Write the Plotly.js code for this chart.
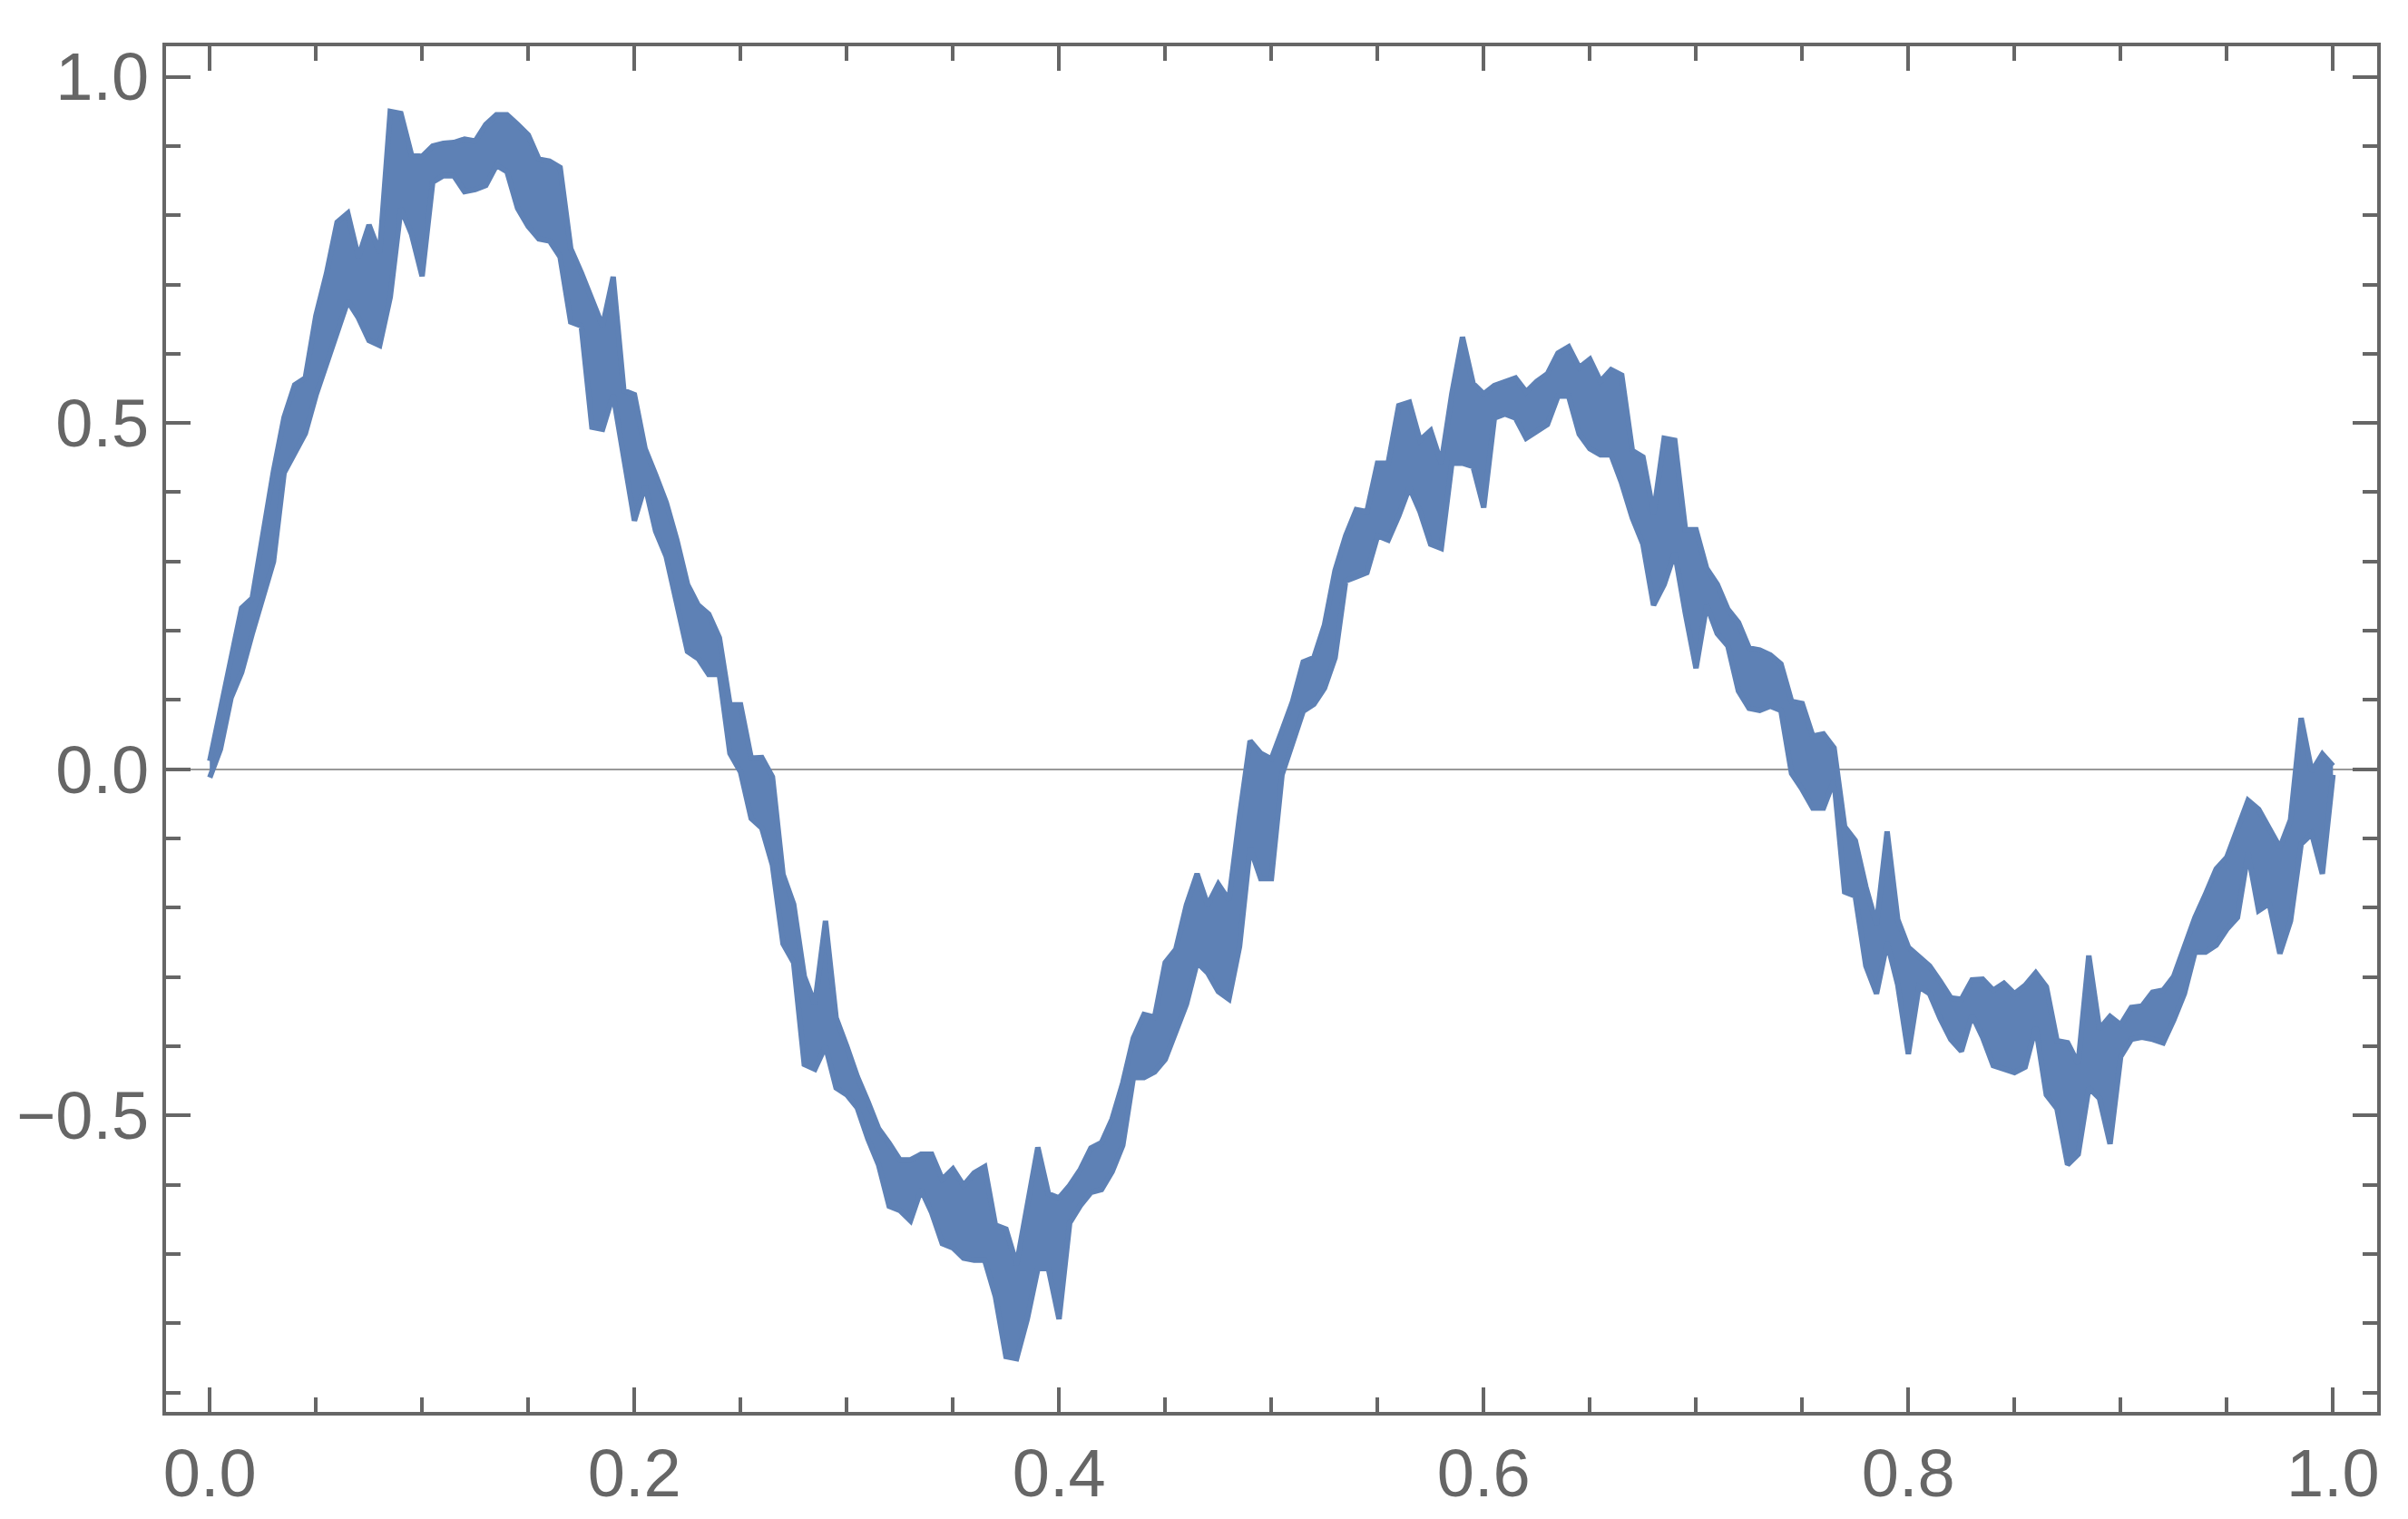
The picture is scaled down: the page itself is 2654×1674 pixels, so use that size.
<!DOCTYPE html>
<html>
<head>
<meta charset="utf-8">
<script src="https://cdn.plot.ly/plotly-3.0.1.min.js"></script>
<style>
  html, body { margin: 0; padding: 0; background: #fff; }
  #plot { width: 2654px; height: 1674px; }
</style>
</head>
<body>
<div id="plot"></div>
<script>
// samples every 0.005 on x, from 0 to 1; top and bottom of the drawn band
var xStart = 0;
var xStep = 0.005;

var bandTop = [
  0.012, 0.089, 0.159, 0.233, 0.247, 0.340, 0.430, 0.508, 0.555, 0.565,
  0.655, 0.716, 0.790, 0.803, 0.739, 0.786, 0.746, 0.950, 0.947, 0.887,
  0.885, 0.900, 0.904, 0.905, 0.910, 0.907, 0.931, 0.945, 0.945, 0.931,
  0.916, 0.881, 0.878, 0.869, 0.752, 0.717, 0.676, 0.640, 0.711, 0.547,
  0.541, 0.463, 0.425, 0.385, 0.331, 0.267, 0.237, 0.224, 0.190, 0.093,
  0.093, 0.016, 0.017, -0.011, -0.152, -0.195, -0.299, -0.339, -0.219, -0.359,
  -0.400, -0.444, -0.480, -0.519, -0.540, -0.564, -0.564, -0.556, -0.556, -0.592,
  -0.577, -0.601, -0.583, -0.574, -0.658, -0.664, -0.715, -0.625, -0.546, -0.613,
  -0.619, -0.601, -0.578, -0.547, -0.539, -0.505, -0.453, -0.388, -0.354, -0.358,
  -0.279, -0.260, -0.196, -0.151, -0.196, -0.166, -0.189, -0.068, 0.041, 0.023,
  0.015, 0.056, 0.098, 0.155, 0.161, 0.208, 0.287, 0.337, 0.375, 0.372,
  0.442, 0.442, 0.525, 0.530, 0.475, 0.489, 0.442, 0.542, 0.624, 0.557,
  0.542, 0.554, 0.560, 0.565, 0.545, 0.560, 0.571, 0.601, 0.610, 0.580,
  0.592, 0.560, 0.577, 0.569, 0.460, 0.451, 0.369, 0.478, 0.475, 0.346,
  0.346, 0.290, 0.267, 0.231, 0.212, 0.175, 0.172, 0.165, 0.152, 0.098,
  0.095, 0.048, 0.051, 0.031, -0.083, -0.103, -0.170, -0.224, -0.090, -0.217,
  -0.257, -0.271, -0.284, -0.306, -0.330, -0.332, -0.304, -0.303, -0.319, -0.309,
  -0.324, -0.312, -0.294, -0.314, -0.392, -0.395, -0.425, -0.269, -0.375, -0.357,
  -0.369, -0.344, -0.342, -0.322, -0.319, -0.299, -0.254, -0.214, -0.180, -0.144,
  -0.127, -0.086, -0.045, -0.058, -0.086, -0.113, -0.073, 0.074, -0.003, 0.022,
  0.005
];

var bandBottom = [
  -0.012, 0.029, 0.103, 0.140, 0.196, 0.250, 0.300, 0.428, 0.458, 0.485,
  0.540, 0.585, 0.629, 0.676, 0.652, 0.619, 0.612, 0.682, 0.810, 0.773,
  0.712, 0.848, 0.857, 0.857, 0.834, 0.837, 0.843, 0.872, 0.863, 0.810,
  0.784, 0.766, 0.763, 0.740, 0.646, 0.640, 0.494, 0.491, 0.541, 0.447,
  0.359, 0.410, 0.344, 0.307, 0.237, 0.170, 0.160, 0.137, 0.137, 0.023,
  -0.004, -0.071, -0.085, -0.138, -0.252, -0.279, -0.426, -0.433, -0.400, -0.460,
  -0.470, -0.489, -0.534, -0.571, -0.631, -0.637, -0.652, -0.607, -0.640, -0.685,
  -0.691, -0.706, -0.709, -0.709, -0.761, -0.848, -0.851, -0.794, -0.721, -0.721,
  -0.794, -0.655, -0.630, -0.611, -0.607, -0.581, -0.543, -0.445, -0.445, -0.437,
  -0.419, -0.377, -0.339, -0.279, -0.294, -0.321, -0.332, -0.256, -0.113, -0.158,
  -0.158, -0.008, 0.038, 0.084, 0.094, 0.117, 0.161, 0.272, 0.278, 0.284,
  0.337, 0.331, 0.366, 0.407, 0.372, 0.325, 0.319, 0.442, 0.442, 0.437,
  0.378, 0.507, 0.513, 0.507, 0.478, 0.489, 0.498, 0.539, 0.539, 0.484,
  0.463, 0.454, 0.454, 0.413, 0.363, 0.325, 0.237, 0.267, 0.313, 0.225,
  0.146, 0.237, 0.196, 0.178, 0.113, 0.088, 0.085, 0.091, 0.085, -0.006,
  -0.029, -0.056, -0.056, -0.016, -0.177, -0.183, -0.284, -0.324, -0.250, -0.311,
  -0.411, -0.314, -0.324, -0.360, -0.390, -0.407, -0.355, -0.387, -0.428, -0.433,
  -0.438, -0.430, -0.372, -0.470, -0.490, -0.571, -0.556, -0.460, -0.475, -0.541,
  -0.415, -0.390, -0.387, -0.390, -0.395, -0.362, -0.324, -0.264, -0.264, -0.254,
  -0.231, -0.214, -0.121, -0.204, -0.194, -0.266, -0.219, -0.108, -0.093, -0.151,
  -0.008
];

var xTicks = [0, 0.2, 0.4, 0.6, 0.8, 1.0];
var yTicks = [-0.5, 0, 0.5, 1.0];

var lineCol = '#5e81b5';
var frameCol = '#666666';

var lower = {
  x0: xStart, dx: xStep,
  y: bandBottom,
  type: 'scatter',
  mode: 'lines',
  line: {color: lineCol, width: 6},
  hoverinfo: 'skip',
  showlegend: false
};
var upper = {
  x0: xStart, dx: xStep,
  y: bandTop,
  type: 'scatter',
  mode: 'lines',
  fill: 'tonexty',
  fillcolor: lineCol,
  line: {color: lineCol, width: 6},
  hoverinfo: 'skip',
  showlegend: false
};

var axisCommon = {
  showline: true,
  linecolor: frameCol,
  linewidth: 4,
  mirror: 'ticks',
  ticks: 'inside',
  ticklen: 27,
  tickwidth: 4,
  tickcolor: frameCol,
  showgrid: false,
  tickformat: '.1f',
  tickfont: {family: 'Liberation Sans, Arial, sans-serif', size: 74, color: frameCol}
};

var layout = {
  width: 2654,
  height: 1674,
  margin: {l: 183, r: 34, t: 51, b: 118},
  paper_bgcolor: '#ffffff',
  plot_bgcolor: '#ffffff',
  showlegend: false,
  xaxis: Object.assign({}, axisCommon, {
    range: [-0.0206, 1.0208],
    tickvals: xTicks,
    zeroline: false,
    minor: {dtick: 0.05, tick0: 0, ticks: 'inside', ticklen: 16, tickwidth: 4, tickcolor: frameCol, showgrid: false}
  }),
  yaxis: Object.assign({}, axisCommon, {
    range: [-0.928, 1.044],
    tickvals: yTicks,
    zeroline: true,
    zerolinecolor: '#999999',
    zerolinewidth: 1.5,
    minor: {dtick: 0.1, tick0: 0, ticks: 'inside', ticklen: 16, tickwidth: 4, tickcolor: frameCol, showgrid: false}
  })
};

Plotly.newPlot('plot', [lower, upper], layout, {staticPlot: true, displayModeBar: false});
</script>
</body>
</html>
